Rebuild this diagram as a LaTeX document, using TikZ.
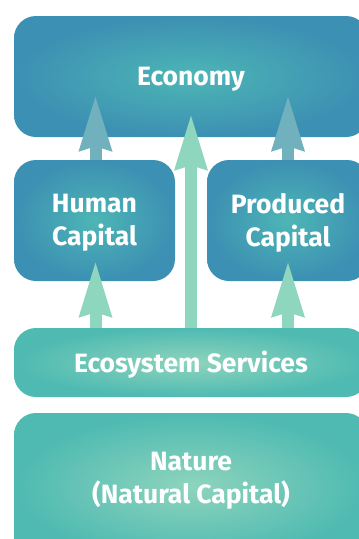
\documentclass[tikz,border=0pt]{standalone}
\usepackage{fontspec}
\setmainfont{Fira Sans}
\usetikzlibrary{arrows.meta,calc}
\definecolor{blueout}{HTML}{3C90B3}
\definecolor{bluein}{HTML}{4DB6B5}
\definecolor{mintout}{HTML}{4EBAB2}
\definecolor{mintin}{HTML}{8ED4BC}
\definecolor{arrgray}{HTML}{70B1BD}
\definecolor{arrmint}{HTML}{8FD6BE}
\tikzset{
  bluebox/.style={rounded corners=22pt, shading=radial, inner color=bluein, outer color=blueout, inner sep=0pt},
  mintbox/.style={rounded corners=22pt, shading=radial, inner color=mintin, outer color=mintout, inner sep=0pt},
  lbl/.style={text=white, font=\fontsize{26.5}{33}\selectfont\bfseries, align=center},
  uparrow/.style={line width=12pt, -{Stealth[width=30pt,length=55pt,inset=3pt]}},
}
\begin{document}
\begin{tikzpicture}[x=1pt,y=1pt]
\useasboundingbox (0,0) rectangle (359,-539);
\clip (0,0) rectangle (359,-539);
% boxes
\node[bluebox, minimum width=354pt, minimum height=121pt] (economy) at (191,-76.5) {};
\node[lbl] at ([yshift=-3pt]economy.center) {Economy};
\node[bluebox, minimum width=161pt, minimum height=121pt] (human) at (94.5,-220.5) {};
\node[lbl] at ([yshift=-2pt]human.center) {Human\\Capital};
\node[bluebox, minimum width=162pt, minimum height=121pt] (produced) at (288,-220.5) {};
\node[lbl] at ([yshift=-2pt]produced.center) {Produced\\Capital};
\node[mintbox, minimum width=354pt, minimum height=69pt] (eco) at (191,-362.5) {};
\node[lbl] at ([yshift=-2pt]eco.center) {Ecosystem Services};
\node[mintbox, minimum width=354pt, minimum height=147pt] (nature) at (191,-486.5) {};
\node[lbl] at ([yshift=6pt]nature.center) {Nature\\(Natural Capital)};
% arrows
\draw[uparrow, arrgray] ($(human.north)+(1,0)$) -- ($(human.north |- economy.south)+(1,43)$);
\draw[uparrow, arrgray] (produced.north) -- ($(produced.north |- economy.south)+(0,43)$);
\draw[uparrow, arrmint] (eco.north) -- ($(economy.south)+(0,24)$);
\draw[uparrow, arrmint] ($(eco.north -| human.north)+(1,0)$) -- ($(human.south)+(1,21)$);
\draw[uparrow, arrmint] (eco.north -| produced.north) -- ($(produced.south)+(0,21)$);
\end{tikzpicture}
\end{document}
